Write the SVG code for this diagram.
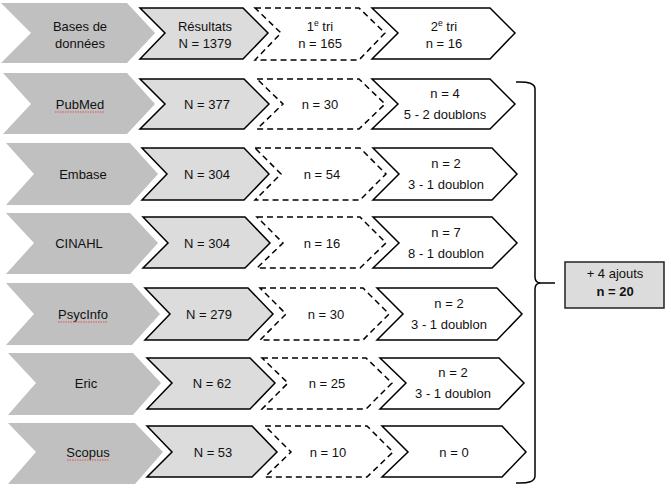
<svg xmlns="http://www.w3.org/2000/svg" width="671" height="490" viewBox="0 0 671 490">
<style>
.g{fill:#C0C0C0;stroke:none}
.r{fill:#DCDCDC;stroke:#000;stroke-width:1.5;stroke-linejoin:miter}
.d{fill:#fff;stroke:#000;stroke-width:1.5;stroke-dasharray:6 4}
.w{fill:#fff;stroke:#000;stroke-width:1.5}
text{font-family:"Liberation Sans",Arial,sans-serif;font-size:13px;fill:#111;text-anchor:middle}
.sup{font-size:8.5px}
.sq{stroke:#E05050;stroke-width:1;stroke-dasharray:1.5 1;fill:none}
.b{font-weight:bold}
</style>
<rect width="671" height="490" fill="#fff"/>

<g id="header">
<polygon class="g" points="1,3 127,3 155,33 127,63 1,63 31,33"/>
<polygon class="r" points="140,8 243,8 268,33 243,59 140,59 165,33"/>
<polygon class="d" points="255,8 359,8 385,33 359,60 255,60 281,33"/>
<polygon class="w" points="372,8 490,8 515,33 490,59 372,59 398,33"/>
<text x="80" y="31">Bases de</text><text x="80" y="48">données</text>
<text x="205" y="31">Résultats</text><text x="205" y="48">N = 1379</text>
<text x="320" y="31">1<tspan class="sup" dy="-5">e</tspan><tspan dy="5"> tri</tspan></text><text x="320" y="48">n = 165</text>
<text x="444" y="31">2<tspan class="sup" dy="-5">e</tspan><tspan dy="5"> tri</tspan></text><text x="444" y="48">n = 16</text>
</g>

<g id="pubmed">
<polygon class="g" points="3,73 127,73 155,104 127,134 3,134 31,104"/>
<polygon class="r" points="140,79 244,79 269,104 244,129 140,129 165,104"/>
<polygon class="d" points="257,79 359,79 385,104 359,129 257,129 283,104"/>
<polygon class="w" points="372,79 490,79 515,104 490,129 372,129 398,104"/>
<text x="80" y="109">PubMed</text>
<line class="sq" x1="55" y1="112" x2="105" y2="112"/>
<text x="207" y="109">N = 377</text>
<text x="320" y="109">n = 30</text>
<text x="445" y="98">n = 4</text><text x="445" y="119">5 - 2 doublons</text>
</g>

<g id="embase">
<polygon class="g" points="6,143 130,143 158,174 130,205 6,205 34,174"/>
<polygon class="r" points="142,148 244,148 269,174 244,200 142,200 167,174"/>
<polygon class="d" points="255,148 360,148 386,174 360,200 255,200 281,174"/>
<polygon class="w" points="373,148 492,148 517,174 492,200 373,200 399,174"/>
<text x="83" y="179">Embase</text>
<text x="207" y="179">N = 304</text>
<text x="322" y="179">n = 54</text>
<text x="446" y="168">n = 2</text><text x="446" y="189">3 - 1 doublon</text>
</g>

<g id="cinahl">
<polygon class="g" points="6,213 130,213 158,243 130,274 6,274 34,243"/>
<polygon class="r" points="143,217 245,217 270,243 245,268 143,268 168,243"/>
<polygon class="d" points="257,217 360,217 386,243 360,268 257,268 283,243"/>
<polygon class="w" points="373,217 492,217 517,243 492,268 373,268 399,243"/>
<text x="79" y="248">CINAHL</text>
<text x="207" y="248">N = 304</text>
<text x="322" y="248">n = 16</text>
<text x="446" y="237">n = 7</text><text x="446" y="258">8 - 1 doublon</text>
</g>

<g id="psycinfo">
<polygon class="g" points="6,283 132,283 160,314 132,345 6,345 34,314"/>
<polygon class="r" points="145,288 248,288 273,314 248,340 145,340 170,314"/>
<polygon class="d" points="260,288 363,288 389,314 363,340 260,340 286,314"/>
<polygon class="w" points="377,288 497,288 522,314 497,340 377,340 403,314"/>
<text x="83" y="319">PsycInfo</text>
<line class="sq" x1="58" y1="322" x2="108" y2="322"/>
<text x="209" y="319">N = 279</text>
<text x="326" y="319">n = 30</text>
<text x="449" y="308">n = 2</text><text x="449" y="329">3 - 1 doublon</text>
</g>

<g id="eric">
<polygon class="g" points="8,353 133,353 161,383 133,415 8,415 36,383"/>
<polygon class="r" points="147,358 250,358 275,383 250,409 147,409 172,383"/>
<polygon class="d" points="262,358 366,358 392,383 366,409 262,409 288,383"/>
<polygon class="w" points="380,358 499,358 524,383 499,409 380,409 406,383"/>
<text x="86" y="388">Eric</text>
<text x="212" y="388">N = 62</text>
<text x="327" y="388">n = 25</text>
<text x="453" y="377">n = 2</text><text x="453" y="398">3 - 1 doublon</text>
</g>

<g id="scopus">
<polygon class="g" points="8,423 135,423 163,452 135,484 8,484 36,452"/>
<polygon class="r" points="147,426 252,426 277,452 252,477 147,477 172,452"/>
<polygon class="d" points="265,426 367,426 393,452 367,477 265,477 291,452"/>
<polygon class="w" points="382,426 502,426 526,452 502,477 382,477 408,452"/>
<text x="88" y="457">Scopus</text>
<line class="sq" x1="67" y1="460" x2="109" y2="460"/>
<text x="213" y="457">N = 53</text>
<text x="328" y="457">n = 10</text>
<text x="454" y="457">n = 0</text>
</g>

<g id="connectors">
<path d="M516,82 Q535,81 535,89 L535,277 Q535,283 541,283 L555,283 M541,283 Q535,283 535,289 L535,476 Q535,484 516,483" fill="none" stroke="#000" stroke-width="1.5"/>
</g>

<g id="total">
<rect x="565" y="262" width="99" height="46" fill="#DCDCDC" stroke="#222" stroke-width="1.5"/>
<text x="615" y="278">+ 4 ajouts</text>
<text class="b" x="615" y="296">n = 20</text>
</g>
</svg>
